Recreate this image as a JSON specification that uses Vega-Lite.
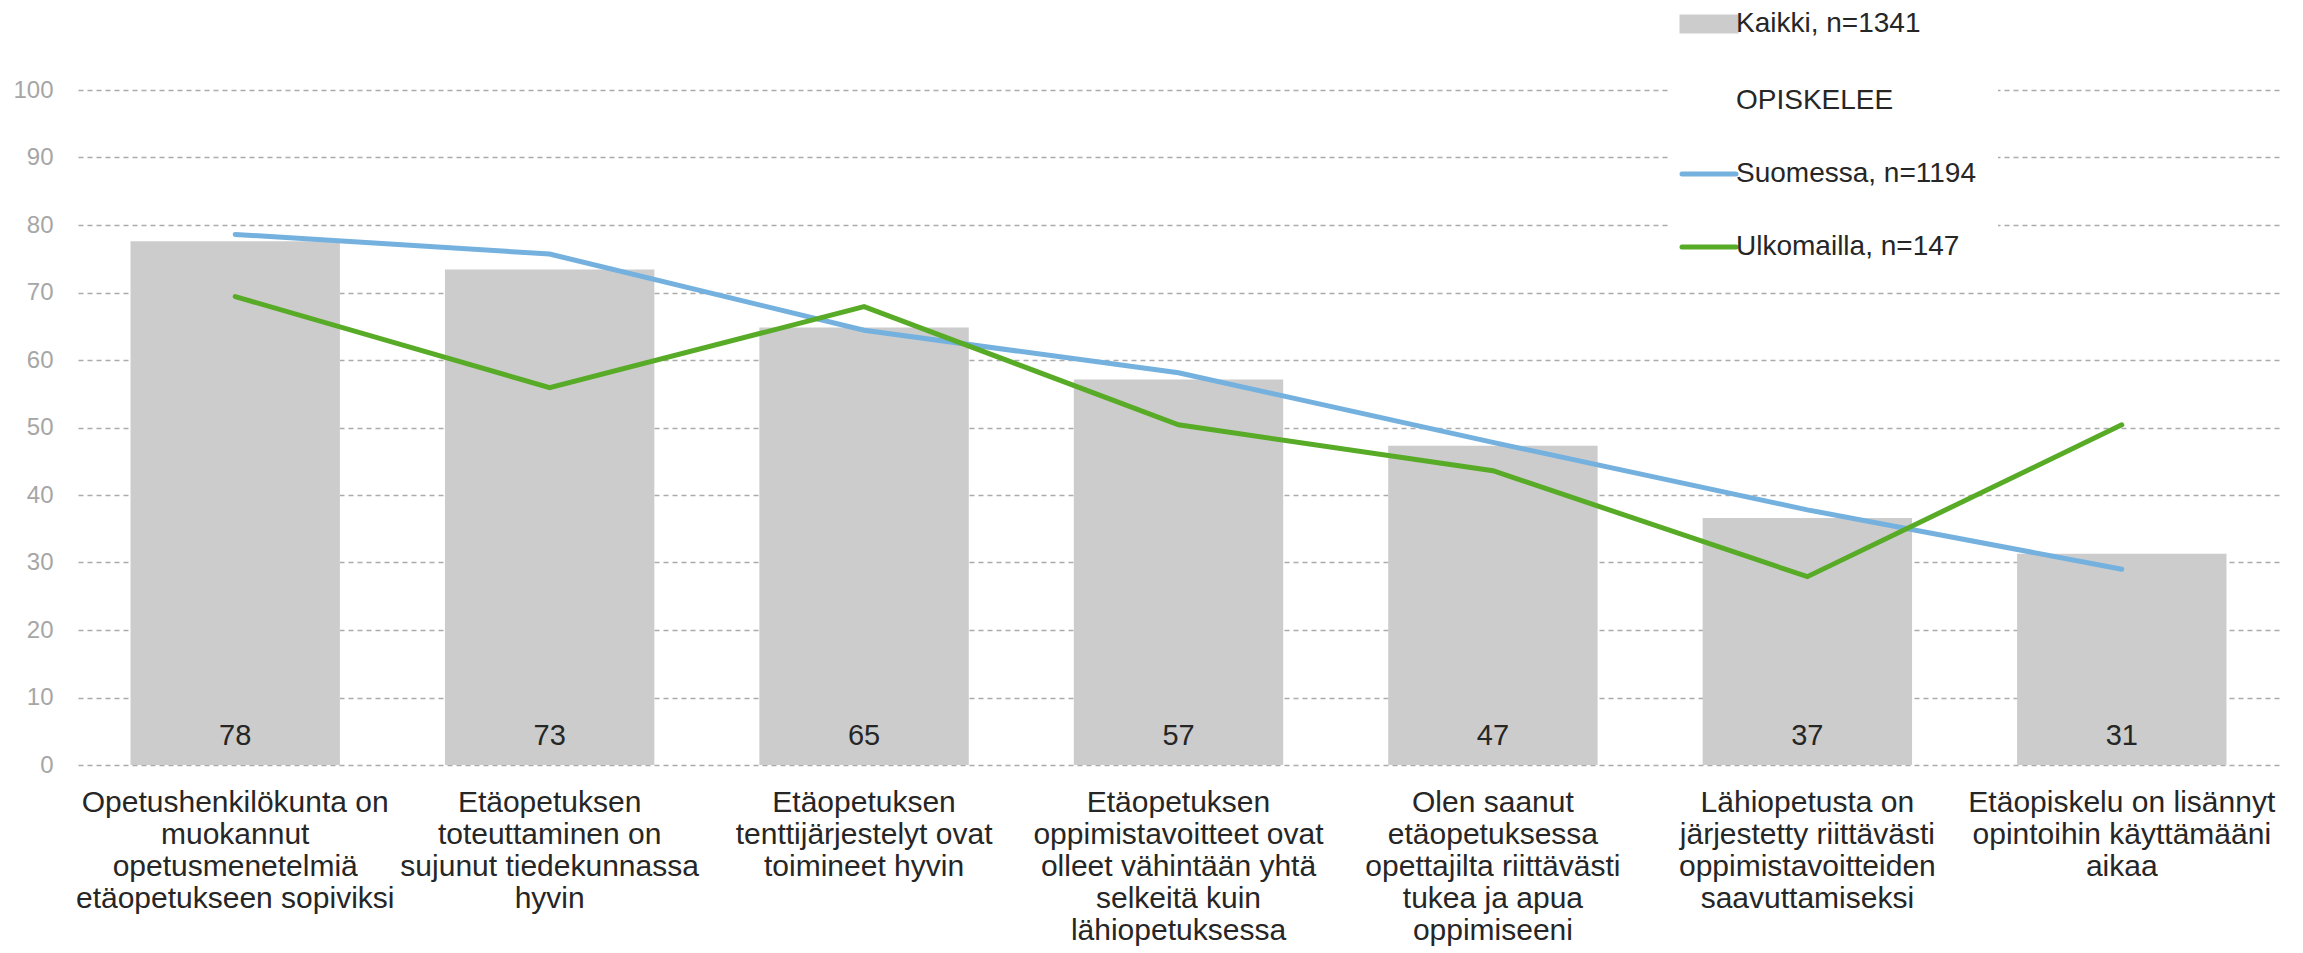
{
  "$schema": "https://vega.github.io/schema/vega-lite/v6.json",
  "width": 2201,
  "height": 675,
  "autosize": {"type": "none"},
  "padding": {"left": 78, "top": 90, "right": 24, "bottom": 188},
  "background": "#ffffff",
  "config": {
    "font": "Liberation Sans",
    "view": {"stroke": null}
  },
  "datasets": {
    "bars": [
      {"kysymys": "Opetushenkilökunta on|muokannut|opetusmenetelmiä|etäopetukseen sopiviksi", "arvo": 77.6},
      {"kysymys": "Etäopetuksen|toteuttaminen on|sujunut tiedekunnassa|hyvin", "arvo": 73.4},
      {"kysymys": "Etäopetuksen|tenttijärjestelyt ovat|toimineet hyvin", "arvo": 64.8},
      {"kysymys": "Etäopetuksen|oppimistavoitteet ovat|olleet vähintään yhtä|selkeitä kuin|lähiopetuksessa", "arvo": 57.1},
      {"kysymys": "Olen saanut|etäopetuksessa|opettajilta riittävästi|tukea ja apua|oppimiseeni", "arvo": 47.3},
      {"kysymys": "Lähiopetusta on|järjestetty riittävästi|oppimistavoitteiden|saavuttamiseksi", "arvo": 36.6},
      {"kysymys": "Etäopiskelu on lisännyt|opintoihin käyttämääni|aikaa", "arvo": 31.3}
    ],
    "lines": [
      {"kysymys": "Opetushenkilökunta on|muokannut|opetusmenetelmiä|etäopetukseen sopiviksi", "sarja": "Suomessa, n=1194", "arvo": 78.6},
      {"kysymys": "Etäopetuksen|toteuttaminen on|sujunut tiedekunnassa|hyvin", "sarja": "Suomessa, n=1194", "arvo": 75.7},
      {"kysymys": "Etäopetuksen|tenttijärjestelyt ovat|toimineet hyvin", "sarja": "Suomessa, n=1194", "arvo": 64.4},
      {"kysymys": "Etäopetuksen|oppimistavoitteet ovat|olleet vähintään yhtä|selkeitä kuin|lähiopetuksessa", "sarja": "Suomessa, n=1194", "arvo": 58.1},
      {"kysymys": "Olen saanut|etäopetuksessa|opettajilta riittävästi|tukea ja apua|oppimiseeni", "sarja": "Suomessa, n=1194", "arvo": 47.8},
      {"kysymys": "Lähiopetusta on|järjestetty riittävästi|oppimistavoitteiden|saavuttamiseksi", "sarja": "Suomessa, n=1194", "arvo": 37.8},
      {"kysymys": "Etäopiskelu on lisännyt|opintoihin käyttämääni|aikaa", "sarja": "Suomessa, n=1194", "arvo": 29.0},
      {"kysymys": "Opetushenkilökunta on|muokannut|opetusmenetelmiä|etäopetukseen sopiviksi", "sarja": "Ulkomailla, n=147", "arvo": 69.4},
      {"kysymys": "Etäopetuksen|toteuttaminen on|sujunut tiedekunnassa|hyvin", "sarja": "Ulkomailla, n=147", "arvo": 55.9},
      {"kysymys": "Etäopetuksen|tenttijärjestelyt ovat|toimineet hyvin", "sarja": "Ulkomailla, n=147", "arvo": 67.9},
      {"kysymys": "Etäopetuksen|oppimistavoitteet ovat|olleet vähintään yhtä|selkeitä kuin|lähiopetuksessa", "sarja": "Ulkomailla, n=147", "arvo": 50.4},
      {"kysymys": "Olen saanut|etäopetuksessa|opettajilta riittävästi|tukea ja apua|oppimiseeni", "sarja": "Ulkomailla, n=147", "arvo": 43.6},
      {"kysymys": "Lähiopetusta on|järjestetty riittävästi|oppimistavoitteiden|saavuttamiseksi", "sarja": "Ulkomailla, n=147", "arvo": 27.9},
      {"kysymys": "Etäopiskelu on lisännyt|opintoihin käyttämääni|aikaa", "sarja": "Ulkomailla, n=147", "arvo": 50.4}
    ]
  },
  "encoding": {
    "x": {
      "field": "kysymys",
      "type": "nominal",
      "sort": null,
      "scale": {"paddingInner": 0.334, "paddingOuter": 0.167},
      "axis": {
        "title": null,
        "labelAngle": 0,
        "labelExpr": "split(datum.label, '|')",
        "labelFontSize": 30,
        "labelLineHeight": 32,
        "labelColor": "#262626",
        "labelPadding": 22,
        "labelBaseline": "top",
        "labelLimit": 0,
        "labelFont": "Liberation Sans",
        "domain": false,
        "ticks": false,
        "grid": false
      }
    }
  },
  "layer": [
    {
      "data": {"name": "bars"},
      "mark": {"type": "bar", "color": "#cccccc"},
      "encoding": {
        "y": {
          "field": "arvo",
          "type": "quantitative",
          "scale": {"domain": [0, 100], "nice": false},
          "axis": {
            "title": null,
            "values": [0, 10, 20, 30, 40, 50, 60, 70, 80, 90, 100],
            "labelFontSize": 24,
            "labelColor": "#a6a6a6",
            "labelPadding": 25,
            "labelFont": "Liberation Sans",
            "domain": false,
            "ticks": false,
            "grid": true,
            "gridColor": "#ababab",
            "gridWidth": 1.3,
            "gridDash": [5, 4]
          }
        },
        "color": {
          "datum": "Kaikki, n=1341",
          "type": "nominal",
          "title": null,
          "scale": {
            "domain": ["Kaikki, n=1341", "OPISKELEE", "Suomessa, n=1194", "Ulkomailla, n=147"],
            "range": ["#cccccc", "#ffffff", "#74b1de", "#58ab27"]
          },
          "legend": {
            "title": null,
            "orient": "none",
            "legendX": 1593,
            "legendY": -104,
            "padding": 22,
            "fillColor": "#ffffff",
            "strokeColor": null,
            "labelFontSize": 28,
            "labelFont": "Liberation Sans",
            "labelColor": "#262626",
            "labelOffset": 11,
            "labelLimit": 0,
            "rowPadding": 43,
            "symbolSize": 729,
            "encode": {
              "symbols": {
                "update": {
                  "shape": {"signal": "datum.value === 'Kaikki, n=1341' ? 'M-2,-0.52H2V0.52H-2Z' : 'M-2,0H2'"},
                  "fill": {"signal": "datum.value === 'Kaikki, n=1341' ? '#cccccc' : 'transparent'"},
                  "stroke": {"signal": "datum.value === 'Suomessa, n=1194' ? '#74b1de' : (datum.value === 'Ulkomailla, n=147' ? '#58ab27' : 'transparent')"},
                  "strokeWidth": {"value": 5},
                  "strokeCap": {"value": "round"},
                  "size": {"value": 729},
                  "opacity": {"value": 1}
                }
              }
            }
          }
        }
      }
    },
    {
      "data": {"name": "bars"},
      "mark": {"type": "text", "dy": -29, "baseline": "middle", "fontSize": 29, "color": "#262626", "font": "Liberation Sans"},
      "encoding": {
        "y": {"datum": 0, "type": "quantitative"},
        "text": {"field": "arvo", "type": "quantitative", "format": ".0f"}
      }
    },
    {
      "data": {"name": "lines"},
      "mark": {"type": "line", "strokeWidth": 5, "strokeCap": "round"},
      "encoding": {
        "y": {"field": "arvo", "type": "quantitative"},
        "color": {"field": "sarja", "type": "nominal", "title": null}
      }
    }
  ]
}
